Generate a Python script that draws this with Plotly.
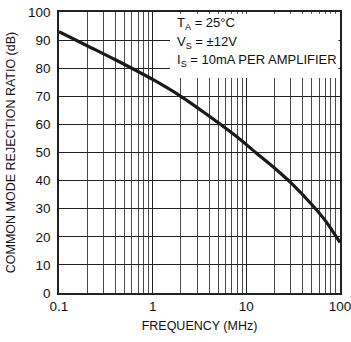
import plotly.graph_objects as go

# Common mode rejection ratio vs frequency
freq_mhz = [0.1, 0.2, 0.4, 1.0, 2.0, 4.0, 8.0, 12.6, 20, 31.6, 50, 70.8, 100]
cmrr_db = [93.0, 88.0, 83.0, 76.0, 70.0, 63.0, 55.5, 50.0, 44.5, 38.5, 31.5, 25.5, 18.0]

y_ticks = [0, 10, 20, 30, 40, 50, 60, 70, 80, 90, 100]
x_ticks = [0.1, 1, 10, 100]
x_tick_text = ["0.1", "1", "10", "100"]

notes = ["T<sub>A</sub> = 25°C", "V<sub>S</sub> = ±12V", "I<sub>S</sub> = 10mA PER AMPLIFIER"]

FONT = "Liberation Sans, Arial, sans-serif"

fig = go.Figure()
fig.add_trace(go.Scatter(
    x=freq_mhz, y=cmrr_db, mode="lines",
    line=dict(color="#1a1a1a", width=3.2, shape="spline", smoothing=0.8),
    hoverinfo="skip", showlegend=False,
))

fig.update_xaxes(
    type="log", range=[-1, 2.0008], automargin=False,
    tickvals=x_ticks, ticktext=x_tick_text, ticklabeloverflow="allow",
    showgrid=True, gridcolor="#222222", gridwidth=1,
    minor=dict(dtick="D1", showgrid=True, gridcolor="#4a4a4a", gridwidth=1, ticks=""),
    showline=True, linecolor="#222222", linewidth=1.5, mirror=True,
    ticks="", zeroline=False,
    tickfont=dict(family=FONT, size=13.5, color="#111"),
    title=dict(text="FREQUENCY (MHz)", font=dict(family=FONT, size=12.5, color="#111"), standoff=8),
)
fig.update_yaxes(
    range=[0, 100], tickvals=y_ticks, automargin=False,
    showgrid=True, gridcolor="#222222", gridwidth=1,
    showline=True, linecolor="#222222", linewidth=1.5, mirror=True,
    ticks="", zeroline=False, ticklabelstandoff=4,
    tickfont=dict(family=FONT, size=13.5, color="#111"),
    title=dict(text="COMMON MODE REJECTION RATIO (dB)", font=dict(family=FONT, size=12.5, color="#111"), standoff=10),
)

# White panel behind the operating-condition notes
fig.add_shape(type="rect", xref="paper", yref="paper",
              x0=0.395, x1=0.994, y0=0.765, y1=0.994,
              fillcolor="white", line=dict(width=0), layer="above")

for i, txt in enumerate(notes):
    fig.add_annotation(xref="paper", yref="paper", x=0.412, y=0.958 - i * 0.066,
                       text=txt, showarrow=False, xanchor="left", yanchor="middle",
                       font=dict(family=FONT, size=13, color="#111"))

fig.update_layout(
    width=351, height=342,
    margin=dict(l=59, r=11, t=12, b=49),
    paper_bgcolor="white", plot_bgcolor="white",
)

# keep the page exactly the size of the figure (no scrollbars)
page_css = ("document.documentElement.style.overflow='hidden';"
            "document.body.style.overflow='hidden';"
            "document.body.style.margin='0';")

fig.write_html("out.html", post_script=page_css)
